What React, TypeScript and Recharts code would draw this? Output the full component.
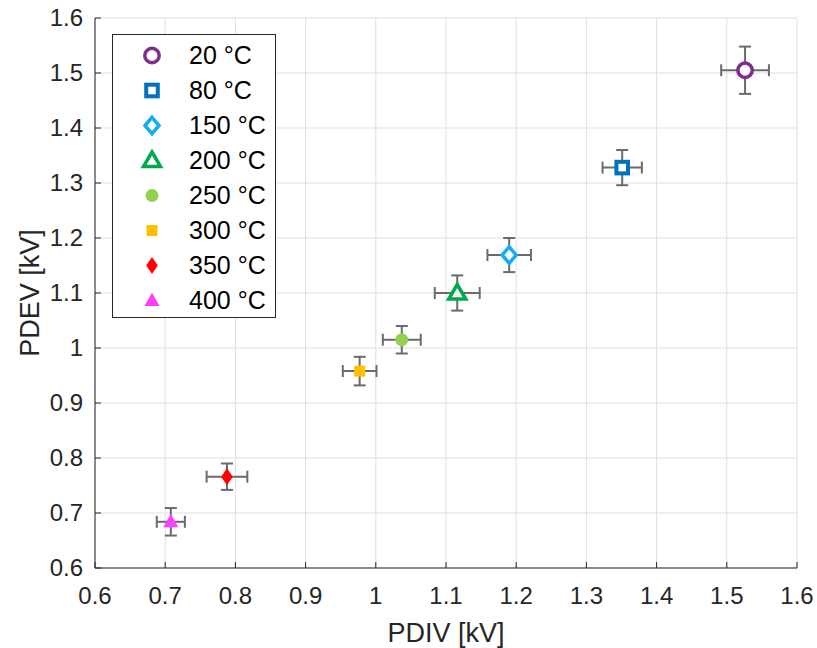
import React from 'react';
import {
  ScatterChart,
  Scatter,
  XAxis,
  YAxis,
  CartesianGrid,
  ErrorBar,
  Legend
} from 'recharts';

const temperatures = ['20 °C', '80 °C', '150 °C', '200 °C', '250 °C', '300 °C', '350 °C', '400 °C'];
const pdiv = [1.526, 1.351, 1.19, 1.116, 1.037, 0.977, 0.788, 0.708];
const pdev = [1.505, 1.328, 1.169, 1.1, 1.015, 0.958, 0.766, 0.684];
const pdivErr = [0.034, 0.028, 0.031, 0.032, 0.027, 0.024, 0.029, 0.02];
const pdevErr = [0.043, 0.032, 0.031, 0.032, 0.025, 0.026, 0.024, 0.025];
const colors = ['#7E2F8E', '#0072BD', '#12AEEF', '#00A84F', '#92D050', '#FFC000', '#FF0000', '#FF40FF'];
const markers = ['circle', 'square', 'diamond', 'triangle', 'circle', 'square', 'diamond', 'triangle'];
const hollow = [true, true, true, true, false, false, false, false];
const axisTicks = [0.6, 0.7, 0.8, 0.9, 1, 1.1, 1.2, 1.3, 1.4, 1.5, 1.6];

const rows = temperatures.map((t, i) => ({
  name: t,
  i,
  x: pdiv[i],
  y: pdev[i],
  ex: pdivErr[i],
  ey: pdevErr[i]
}));

const FONT = '"Liberation Sans", Arial, sans-serif';
const AXIS = '#262626';

function drawMarker(i: number, cx: number, cy: number) {
  const color = colors[i];
  const open = hollow[i];
  const kind = markers[i];
  const fill = open ? '#ffffff' : color;
  const sw = open ? 3.5 : 0;
  if (kind === 'circle') {
    return <circle cx={cx} cy={cy} r={open ? 7.2 : 6.5} fill={fill} stroke={color} strokeWidth={sw} />;
  }
  if (kind === 'square') {
    const h = open ? 5.8 : 5.5;
    return <rect x={cx - h} y={cy - h} width={h * 2} height={h * 2} fill={fill} stroke={color} strokeWidth={open ? 4 : 0} />;
  }
  if (kind === 'diamond') {
    const w = open ? 7 : 5.8;
    const h = open ? 8.2 : 8.5;
    const pts = `${cx},${cy - h} ${cx + w},${cy} ${cx},${cy + h} ${cx - w},${cy}`;
    return <polygon points={pts} fill={fill} stroke={color} strokeWidth={sw} />;
  }
  const w = open ? 8.5 : 7.5;
  const top = open ? 8.5 : 8;
  const bot = open ? 6 : 5.5;
  const pts = `${cx},${cy - top} ${cx + w},${cy + bot} ${cx - w},${cy + bot}`;
  return <polygon points={pts} fill={fill} stroke={color} strokeWidth={sw} strokeLinejoin="miter" />;
}

const fmt = (v: number) => String(v);

// inward tick marks drawn together with the labels
const XTick = (props: any) => {
  const { x, y, payload } = props;
  return (
    <g>
      <line x1={x} x2={x} y1={y - 19} y2={y - 25} stroke={AXIS} />
      <text x={x} y={y} dy="0.71em" textAnchor="middle" fill={AXIS} fontSize={24} fontFamily={FONT}>
        {fmt(payload.value)}
      </text>
    </g>
  );
};

const YTick = (props: any) => {
  const { x, y, payload } = props;
  return (
    <g>
      <line x1={x + 12} x2={x + 18} y1={y} y2={y} stroke={AXIS} />
      <text x={x} y={y} dy="0.35em" textAnchor="end" fill={AXIS} fontSize={24} fontFamily={FONT}>
        {fmt(payload.value)}
      </text>
    </g>
  );
};

const XLabel = (props: any) => {
  const vb = props.viewBox;
  return (
    <text x={vb.x + vb.width / 2} y={vb.y + vb.height - 6.5} textAnchor="middle" fill={AXIS} fontSize={27} fontFamily={FONT}>
      PDIV [kV]
    </text>
  );
};

const YLabel = (props: any) => {
  const vb = props.viewBox;
  const cx = vb.x + 15;
  const cy = vb.y + vb.height / 2;
  return (
    <text x={cx} y={cy} dy="0.35em" textAnchor="middle" transform={`rotate(-90, ${cx}, ${cy})`} fill={AXIS} fontSize={27} fontFamily={FONT}>
      PDEV [kV]
    </text>
  );
};

const LegendBox = () => (
  <div
    style={{
      border: `1px solid ${AXIS}`,
      background: '#ffffff',
      boxSizing: 'border-box',
      width: 164,
      height: 284,
      paddingTop: 2.5,
      fontFamily: FONT,
      fontSize: 25,
      color: '#000000'
    }}
  >
    {temperatures.map((t, i) => (
      <div key={t} style={{ display: 'flex', alignItems: 'center', height: 35 }}>
        <svg width={76} height={35} style={{ display: 'block' }}>
          {drawMarker(i, 39, 17.5)}
        </svg>
        <span style={{ lineHeight: '35px' }}>{t}</span>
      </div>
    ))}
  </div>
);

const App: React.FC = () => {
  return (
    <div style={{ position: 'absolute', left: 0, top: 0, width: 817, height: 648, background: '#ffffff' }}>
      <ScatterChart width={817} height={648} margin={{ top: 18, right: 20, left: 15, bottom: 0 }}>
        <CartesianGrid stroke="#dfdfdf" />
        <XAxis
          type="number"
          dataKey="x"
          domain={[0.6, 1.6]}
          ticks={axisTicks}
          interval={0}
          height={80}
          tickSize={0}
          tickMargin={19}
          axisLine={{ stroke: AXIS }}
          tick={<XTick />}
          label={{ content: <XLabel /> }}
        />
        <YAxis
          type="number"
          dataKey="y"
          domain={[0.6, 1.6]}
          ticks={axisTicks}
          interval={0}
          width={80}
          tickSize={0}
          tickMargin={12}
          axisLine={{ stroke: AXIS }}
          tick={<YTick />}
          label={{ content: <YLabel /> }}
        />
        <XAxis
          xAxisId="top"
          orientation="top"
          type="number"
          dataKey="x"
          domain={[0.6, 1.6]}
          ticks={axisTicks}
          height={0}
          mirror
          tick={false}
          tickSize={6}
          axisLine={{ stroke: AXIS }}
          tickLine={{ stroke: AXIS }}
        />
        <YAxis
          yAxisId="right"
          orientation="right"
          type="number"
          dataKey="y"
          domain={[0.6, 1.6]}
          ticks={axisTicks}
          width={0}
          mirror
          tick={false}
          tickSize={6}
          axisLine={{ stroke: AXIS }}
          tickLine={{ stroke: AXIS }}
        />
        <Scatter
          data={rows}
          isAnimationActive={false}
          shape={(p: any) => drawMarker(p.payload.i, p.cx, p.cy)}
        />
        <Scatter data={rows} isAnimationActive={false} shape={() => <g />}>
          <ErrorBar dataKey="ex" direction="x" width={6} stroke="#6b6b6b" strokeWidth={2} isAnimationActive={false} />
          <ErrorBar dataKey="ey" direction="y" width={6} stroke="#6b6b6b" strokeWidth={2} isAnimationActive={false} />
        </Scatter>
        <Legend
          layout="horizontal"
          verticalAlign="middle"
          align="center"
          wrapperStyle={{ left: 112, top: 34, width: 164, height: 284 }}
          content={() => <LegendBox />}
        />
      </ScatterChart>
    </div>
  );
};

export default App;
